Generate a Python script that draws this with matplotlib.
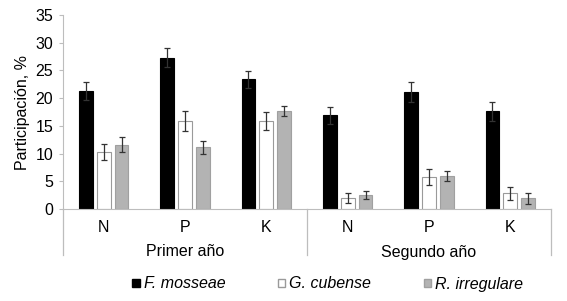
import numpy as np
import matplotlib.pyplot as plt
from matplotlib.patches import Patch

plt.rcParams['font.family'] = ['Liberation Sans', 'DejaVu Sans']

categories = ['N', 'P', 'K', 'N', 'P', 'K']
groups = ['Primer año', 'Segundo año']
species = ['F. mosseae', 'G. cubense', 'R. irregulare']

f_mosseae = [21.3, 27.3, 23.4, 16.9, 21.1, 17.6]
f_err = [1.6, 1.7, 1.5, 1.5, 1.8, 1.7]
g_cubense = [10.3, 15.8, 15.9, 2.0, 5.8, 2.8]
g_err = [1.5, 1.8, 1.6, 0.9, 1.4, 1.2]
r_irregulare = [11.6, 11.1, 17.7, 2.5, 5.9, 1.9]
r_err = [1.3, 1.1, 0.9, 0.7, 0.9, 1.0]

fig = plt.figure(figsize=(5.67, 3.01), dpi=100)
ax = fig.add_axes([63/567, 1-209/301, (551-63)/567, (209-15)/301])

x = np.arange(len(categories))
w = 0.17
step = 0.22
faces = ['black', 'white', '#b3b3b3']
edges = ['black', '#9a9a9a', '#a0a0a0']
series = [f_mosseae, g_cubense, r_irregulare]
errs = [f_err, g_err, r_err]
for i in range(3):
    ax.bar(x + (i - 1) * step, series[i], w, color=faces[i], edgecolor=edges[i],
           linewidth=0.8, yerr=errs[i], capsize=2.5,
           error_kw=dict(ecolor='#333333', elinewidth=0.9, capthick=0.9))

ax.set_xlim(-0.5, len(categories) - 0.5)
ax.set_ylim(0, 35)
ax.set_yticks(range(0, 36, 5))
ax.tick_params(axis='y', length=3, color='#bdbdbd', labelsize=11.5, pad=4)
ax.tick_params(axis='x', length=0, labelsize=11.5, pad=8)
ax.set_xticks(x)
ax.set_xticklabels(categories)
ax.set_ylabel('Participación, %', fontsize=11.5, labelpad=4)

for s in ['top', 'right']:
    ax.spines[s].set_visible(False)
ax.spines['bottom'].set_color('#bdbdbd')
ax.spines['left'].set_color('#bdbdbd')
ax.spines['left'].set_bounds(0, 35)

# group separators
ax.plot([0, 0], [0, -46/194], transform=ax.transAxes, color='#bdbdbd', lw=0.9, clip_on=False)
ax.plot([0.5, 0.5], [0, -46/194], transform=ax.transAxes, color='#bdbdbd', lw=0.9, clip_on=False)
ax.plot([1.0, 1.0], [0, -46/194], transform=ax.transAxes, color='#bdbdbd', lw=0.9, clip_on=False)

for j, g in enumerate(groups):
    ax.text(0.25 + 0.5 * j, -43/194, g, transform=ax.transAxes, ha='center',
            va='center', fontsize=11.5)

handles = [Patch(facecolor=faces[i], edgecolor=edges[i], label=species[i]) for i in range(3)]
leg = fig.legend(handles=handles, loc='center', bbox_to_anchor=(0.578, 1-284/301), ncol=3,
                 frameon=False, prop=dict(style='italic', size=11.5),
                 handlelength=0.45, handleheight=0.45, handletextpad=0.25, columnspacing=3.3)

fig.savefig('out.png', dpi=100)
